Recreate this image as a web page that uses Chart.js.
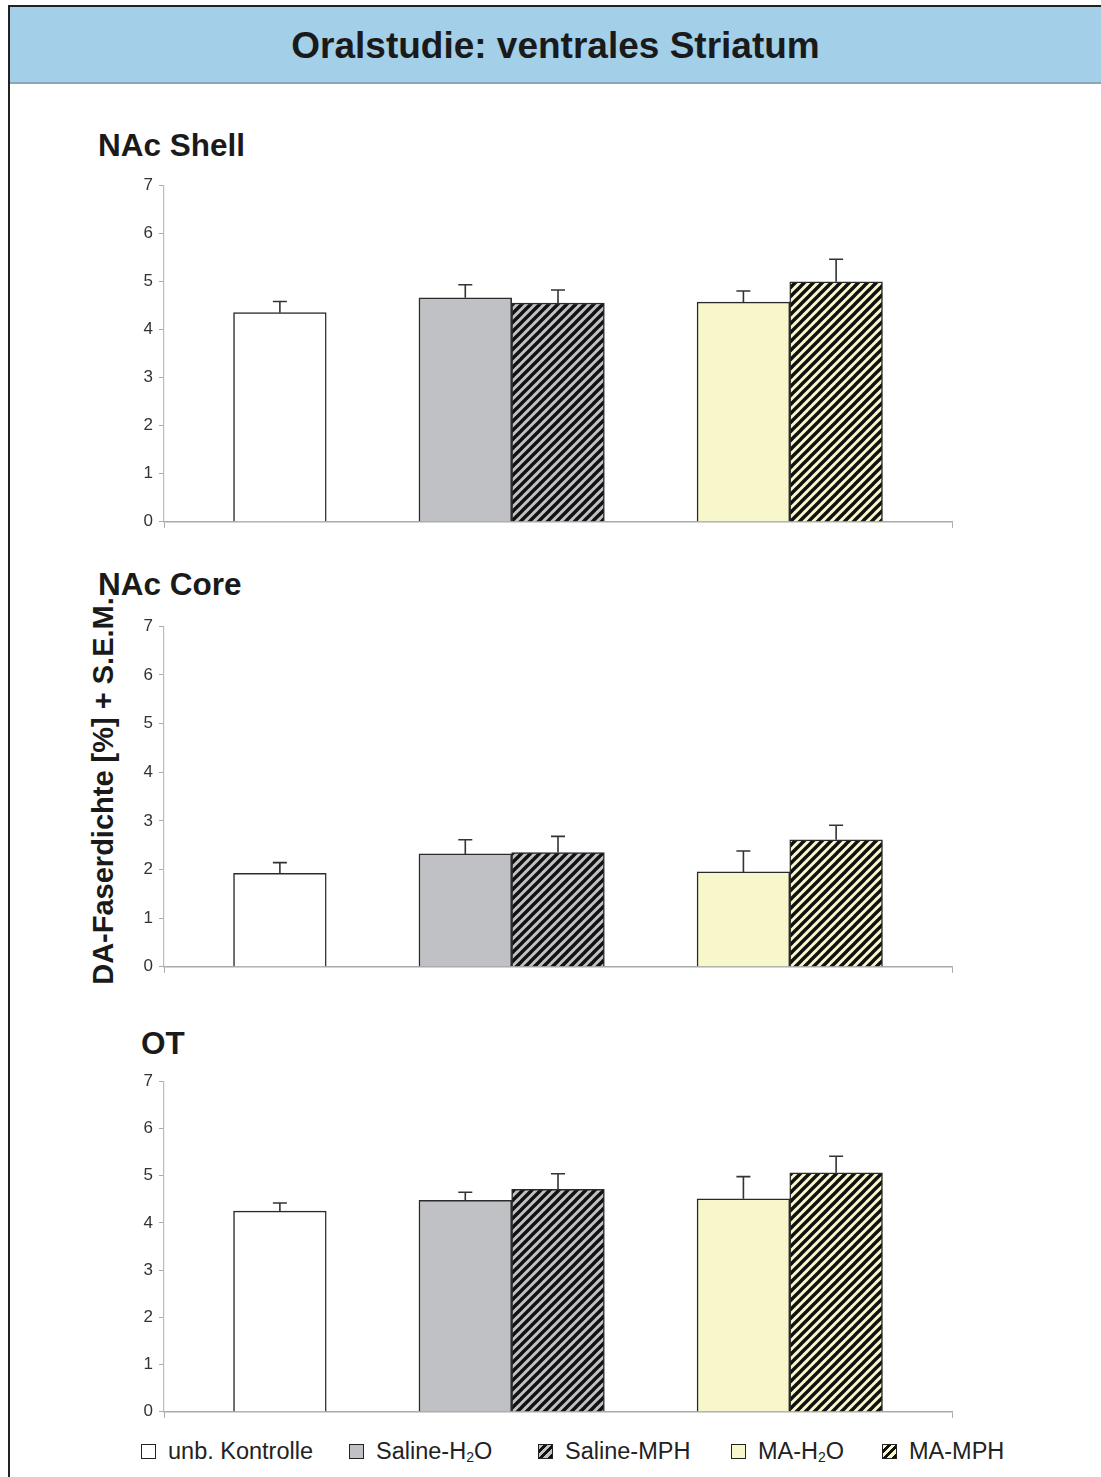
<!DOCTYPE html>
<html lang="de">
<head>
  <meta charset="UTF-8" />
  <title>Oralstudie: ventrales Striatum</title>
  <script src="https://cdn.jsdelivr.net/npm/chart.js"></script>
  <style>
    body { margin: 0; width: 1101px; height: 1477px; position: relative; background: #fff; font-family: Arial, "Liberation Sans", sans-serif; overflow: hidden; }
    .frameL { position: absolute; left: 8px; top: 5px; width: 2px; height: 1472px; background: #222; }
    .frameT { position: absolute; left: 8px; top: 5px; width: 1093px; height: 2px; background: #222; }
    .titlebar { position: absolute; left: 10px; top: 7px; width: 1091px; height: 75px; background: #a3cfe8; border-bottom: 2px solid #8aa7b6; }
    .titlebar span { position: absolute; left: 0; right: 0; top: 18px; text-align: center; font-weight: bold; font-size: 37px; color: #1a1a1a; }
    .ptitle { position: absolute; font-weight: bold; font-size: 31.5px; color: #1a1a1a; line-height: 1; }
    .ylabel { position: absolute; left: 103px; top: 791px; transform: translate(-50%, -50%) rotate(-90deg); white-space: nowrap; font-weight: bold; font-size: 29px; color: #1a1a1a; }
    canvas.c { position: absolute; left: 0; }
    .legend .item { position: absolute; top: 1435px; display: flex; align-items: center; font-size: 23.5px; color: #222; line-height: 32px; white-space: nowrap; }
    .legend .box { width: 13px; height: 13px; border: 1.5px solid #222; margin-right: 12px; }
    .legend sub { font-size: 14px; position: relative; top: 6px; vertical-align: baseline; }
  </style>
</head>
<body>
  <div class="frameL"></div>
  <div class="frameT"></div>
  <div class="titlebar"><span>Oralstudie: ventrales Striatum</span></div>

  <div class="ptitle" style="left:98px; top:130px;">NAc Shell</div>
  <div class="ptitle" style="left:98px; top:569px;">NAc Core</div>
  <div class="ptitle" style="left:141px; top:1028px;">OT</div>
  <div class="ylabel">DA-Faserdichte [%] + S.E.M.</div>

  <canvas class="c" id="shell" width="1101" height="369" style="top:169px"></canvas>
  <canvas class="c" id="core" width="1101" height="373" style="top:610px"></canvas>
  <canvas class="c" id="ot" width="1101" height="363" style="top:1065px"></canvas>

  <div class="legend" id="legend"></div>

  <script>
    // groups
    const groups = ["unb. Kontrolle", "Saline-H2O", "Saline-MPH", "MA-H2O", "MA-MPH"];
    // where each bar sits on the category axis (axis runs 0 .. 8.5)
    const xPos = [1.25, 3.25, 4.25, 6.25, 7.25];
    const yTicks = [0, 1, 2, 3, 4, 5, 6, 7];

    // mean values + S.E.M.
    const shellMean = [4.35, 4.66, 4.55, 4.57, 4.99];
    const shellSem  = [0.23, 0.27, 0.27, 0.23, 0.47];
    const coreMean  = [1.92, 2.32, 2.35, 1.95, 2.61];
    const coreSem   = [0.22, 0.29, 0.33, 0.43, 0.30];
    const otMean    = [4.25, 4.48, 4.71, 4.51, 5.06];
    const otSem     = [0.17, 0.17, 0.33, 0.47, 0.35];

    const GRAY = "#c0c1c5", YELLOW = "#f8f6cb";

    function hatch(bg) {
      const n = 9;
      const c = document.createElement("canvas");
      c.width = n; c.height = n;
      const g = c.getContext("2d");
      g.fillStyle = bg; g.fillRect(0, 0, n, n);
      g.strokeStyle = "#111"; g.lineWidth = 3.4;
      g.beginPath();
      for (const k of [0, n, 2 * n]) {
        g.moveTo(k - n - 1, n + 1); g.lineTo(k + 1, -1);
      }
      g.stroke();
      return g.createPattern(c, "repeat");
    }
    const fills = ["#ffffff", GRAY, hatch(GRAY), YELLOW, hatch(YELLOW)];

    const errorBars = {
      id: "errorBars",
      afterDatasetsDraw(chart, args, opts) {
        const ctx = chart.ctx, y = chart.scales.y;
        const meta = chart.getDatasetMeta(0);
        ctx.save();
        ctx.strokeStyle = "#333";
        ctx.lineWidth = 1.6;
        meta.data.forEach((bar, i) => {
          const top = y.getPixelForValue(opts.mean[i] + opts.sem[i]);
          ctx.beginPath();
          ctx.moveTo(bar.x, bar.y);
          ctx.lineTo(bar.x, top);
          ctx.moveTo(bar.x - 7, top);
          ctx.lineTo(bar.x + 7, top);
          ctx.stroke();
        });
        ctx.restore();
      }
    };

    function makeChart(id, mean, sem) {
      new Chart(document.getElementById(id), {
        type: "bar",
        data: {
          datasets: [{
            data: mean.map((v, i) => ({ x: xPos[i], y: v })),
            backgroundColor: fills,
            borderColor: "#2a2a2a",
            borderWidth: 1.5,
            barPercentage: 1,
            categoryPercentage: 1
          }]
        },
        options: {
          responsive: false,
          animation: false,
          layout: { padding: { top: 0, bottom: 0, left: 0, right: 149 } },
          plugins: { legend: { display: false }, tooltip: { enabled: false }, errorBars: { mean: mean, sem: sem } },
          scales: {
            x: {
              type: "linear", min: 0, max: 8.5, offset: false,
              afterBuildTicks: s => { s.ticks = [{ value: 0 }, { value: 8.5 }]; },
              afterFit: s => { s.height = 0; },
              ticks: { display: false },
              grid: { drawOnChartArea: false, offset: false, tickLength: 6, color: "#aaa" },
              border: { color: "#aaa", width: 1.5 }
            },
            y: {
              min: 0, max: 7,
              afterBuildTicks: s => { s.ticks = yTicks.map(v => ({ value: v })); },
              afterFit: s => { s.width = 164; },
              ticks: { color: "#333", font: { family: "Arial", size: 17 }, padding: 6 },
              grid: { drawOnChartArea: false, tickLength: 5, color: "#aaa" },
              border: { color: "#bbb", width: 1.2 }
            }
          }
        },
        plugins: [errorBars]
      });
    }

    makeChart("shell", shellMean, shellSem);
    makeChart("core", coreMean, coreSem);
    makeChart("ot", otMean, otSem);

    // legend
    const legendBg = [
      "#fff", GRAY,
      "repeating-linear-gradient(135deg, " + GRAY + " 0 3px, #111 3px 6px)",
      YELLOW,
      "repeating-linear-gradient(135deg, " + YELLOW + " 0 3px, #111 3px 6px)"
    ];
    const legendLeft = [141, 349, 538, 731, 882];
    document.getElementById("legend").innerHTML = groups.map((g, i) =>
      '<div class="item" style="left:' + legendLeft[i] + 'px"><div class="box" style="background:' + legendBg[i] + '"></div>' +
      g.replace("H2O", "H<sub>2</sub>O") + '</div>').join("");
  </script>
</body>
</html>
